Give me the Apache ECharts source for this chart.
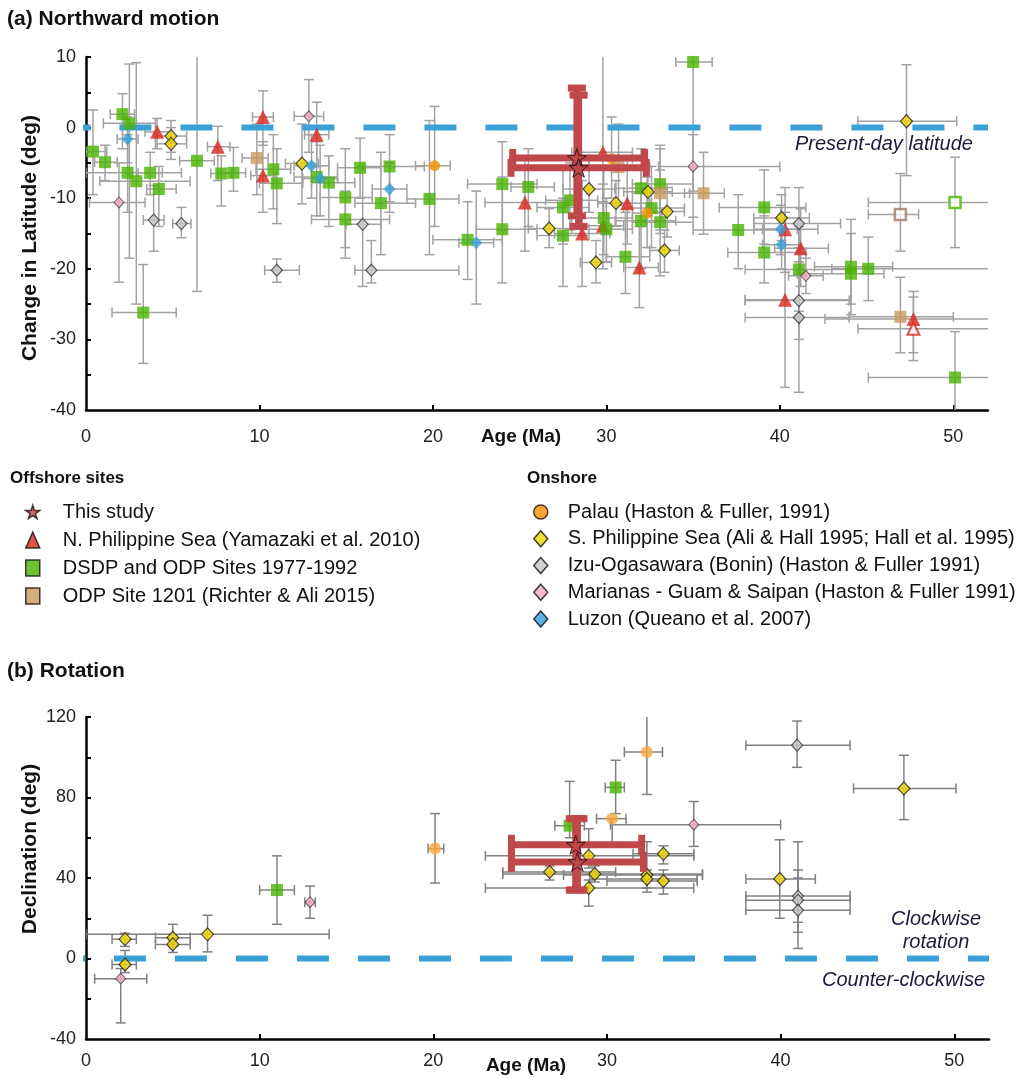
<!DOCTYPE html>
<html>
<head>
<meta charset="utf-8">
<script src="https://cdn.jsdelivr.net/npm/echarts@6/dist/echarts.min.js"></script>
<style>html,body{margin:0;padding:0;background:#fff}#c{width:1018px;height:1079px}</style>
</head>
<body>
<div id="c"></div>
<script>
// ---- data: [age, value, ageLow, ageHigh, valueLow, valueHigh] ----
const xTickLabels = [0, 10, 20, 30, 40, 50];
const yTickLabelsA = [-40, -30, -20, -10, 0, 10];
const yTickLabelsB = [-40, 0, 40, 80, 120];

// (a) Northward motion
const thisStudyA = [[28.3, -4.3, 24.6, 32.2, -12.5, 5.6], [28.4, -5.7, 24.5, 32.3, -14.0, 4.6]];
const nPhilA = [
  [4.1, -0.6, 3.4, 4.9, -3.0, 1.3], [7.6, -2.7, 7.0, 8.3, -7.5, 0.2], [10.2, 1.5, 9.6, 10.8, -2.5, 5.2],
  [10.2, -6.8, 9.5, 10.9, -12.0, -2.0], [13.3, -1.0, 12.6, 14.0, -5.5, 3.6], [25.3, -10.6, 23.0, 27.5, -17.5, -4.5],
  [28.6, -15.0, 27.0, 30.2, -22.5, -7.5], [29.8, -3.5, 28.0, 31.5, -10.5, 10.8], [29.8, -13.9, 28.5, 31.0, -20.0, -8.0],
  [31.2, -10.7, 30.0, 32.5, -16.5, -4.5], [31.9, -19.8, 31.0, 33.0, -25.5, -14.0], [40.3, -14.4, 38.5, 42.2, -20.5, -8.5],
  [41.2, -17.1, 39.7, 42.8, -22.5, -11.5], [40.3, -24.4, 38.0, 44.1, -36.8, -12.0], [47.7, -27.1, 42.6, 53.0, -31.9, -23.2]
];
const nPhilOpenA = [[47.7, -28.5, 44.5, 53.0, -33.0, -24.0]];
const dsdpA = [
  [0.4, -3.4, 0.0, 1.2, -9.5, 2.5], [1.1, -4.9, 0.5, 1.8, -7.5, -2.5], [2.1, 1.9, 1.4, 2.8, -3.0, 4.8],
  [2.5, 0.6, 1.0, 4.0, -18.5, 9.0], [2.4, -6.4, 0.0, 5.5, -12.0, -1.0], [2.9, -7.6, 0.8, 6.0, -25.0, 9.2],
  [3.3, -26.2, 1.5, 5.2, -33.4, -19.4], [3.7, -6.4, 3.0, 4.4, -9.5, -3.5], [4.2, -8.7, 3.5, 5.2, -14.0, -5.5],
  [6.4, -4.7, 5.4, 7.4, -23.2, 11.0], [7.8, -6.5, 7.2, 8.4, -11.1, -4.0], [8.5, -6.4, 7.8, 9.2, -9.0, -2.8],
  [10.8, -5.9, 9.8, 11.8, -11.5, -1.0], [11.0, -7.9, 10.0, 12.5, -13.6, -3.0], [13.3, -7.0, 12.0, 14.5, -12.5, -2.0],
  [14.0, -7.8, 13.0, 15.5, -14.0, -4.0], [14.95, -9.9, 13.5, 16.5, -18.5, -3.0], [14.95, -13.0, 13.0, 17.5, -17.0, -9.0],
  [15.8, -5.7, 14.5, 17.0, -10.0, -1.5], [17.0, -10.7, 15.5, 19.0, -18.0, -3.5], [17.5, -5.5, 16.0, 19.5, -10.5, -1.0],
  [19.8, -10.1, 18.5, 21.5, -18.0, 1.0], [22.0, -15.9, 20.0, 24.0, -21.5, -10.5], [24.0, -8.0, 22.0, 26.0, -14.5, -2.0],
  [24.0, -14.4, 22.5, 26.0, -22.0, -7.0], [25.5, -8.4, 24.5, 27.0, -14.0, -3.0], [27.5, -11.3, 26.0, 29.0, -16.5, -6.0],
  [27.5, -15.3, 26.0, 29.0, -22.5, -10.0], [27.9, -10.3, 26.5, 29.5, -14.5, -5.0], [29.85, -12.8, 28.0, 31.5, -18.0, -6.0],
  [30.0, -14.4, 29.0, 31.5, -19.0, -10.0], [31.1, -18.3, 30.0, 32.5, -23.5, -12.0], [32.0, -8.6, 30.5, 33.5, -14.0, -3.0],
  [32.0, -13.2, 30.5, 34.0, -20.0, -6.0], [32.6, -11.4, 31.0, 34.5, -17.0, -5.5], [33.1, -8.0, 31.5, 35.0, -14.5, -2.5],
  [33.1, -13.4, 31.5, 35.0, -21.0, -6.0], [35.0, 9.3, 34.0, 36.1, -12.7, 11.0], [37.6, -14.5, 35.0, 40.0, -20.0, -9.5],
  [39.1, -11.3, 36.5, 41.5, -16.5, -6.0], [39.1, -17.7, 37.0, 41.5, -22.0, -12.5], [41.1, -20.1, 38.0, 44.0, -26.0, -14.0],
  [44.1, -19.7, 42.0, 46.5, -25.0, -13.0], [44.1, -20.7, 41.0, 46.0, -26.5, -15.0], [45.1, -20.0, 43.0, 53.0, -24.5, -15.5],
  [50.1, -35.4, 45.1, 53.0, -41.0, -28.9]
];
const dsdpOpenA = [[50.1, -10.6, 45.1, 53.0, -17.0, -4.2]];
const odpA = [
  [9.85, -4.3, 9.0, 10.5, -9.5, 0.5], [30.7, -5.6, 29.0, 32.5, -11.0, 0.5], [33.1, -9.3, 31.5, 34.8, -15.0, -3.0],
  [35.6, -9.3, 34.5, 36.8, -15.1, -3.5], [46.95, -26.8, 44.0, 50.0, -31.9, -21.2]
];
const odpOpenA = [[46.95, -12.3, 45.1, 48.0, -17.5, -6.5]];
const palauA = [[20.1, -5.4, 19.0, 21.0, -14.0, 3.0], [30.3, -4.4, 29.0, 31.5, -10.0, 1.5], [32.35, -12.1, 31.5, 33.2, -17.0, -7.0]];
const sPhilA = [
  [4.9, -1.2, 4.0, 5.8, -3.5, 1.0], [4.9, -2.3, 4.0, 5.8, -4.5, 0.0], [12.45, -5.1, 11.5, 13.4, -10.8, 0.5],
  [26.7, -14.3, 25.5, 28.0, -17.0, -11.5], [29.0, -8.7, 27.5, 30.5, -12.0, -5.5], [29.4, -19.1, 28.5, 30.3, -22.0, -16.0],
  [30.55, -10.7, 29.5, 31.5, -14.0, -7.5], [32.4, -9.1, 31.0, 33.8, -12.5, -5.5], [33.5, -11.9, 32.5, 34.5, -15.5, -8.5],
  [33.35, -17.4, 32.5, 34.2, -20.5, -14.5], [40.1, -12.8, 38.5, 41.7, -16.0, -9.5], [47.3, 0.9, 44.5, 50.2, -6.8, 8.9]
];
const izuA = [
  [3.9, -13.1, 3.3, 4.5, -17.5, -8.2], [5.5, -13.6, 5.0, 6.05, -15.6, -11.3], [11.0, -20.2, 10.3, 12.3, -21.9, -18.6],
  [15.95, -13.7, 15.0, 17.0, -22.5, -5.5], [16.45, -20.2, 15.5, 21.5, -22.0, -16.0], [41.1, -13.6, 38.5, 43.5, -19.0, -8.5],
  [41.1, -24.5, 38.0, 44.0, -30.0, -19.0], [41.1, -26.9, 38.0, 44.0, -37.5, -17.0]
];
const marA = [[1.9, -10.6, 0.2, 3.4, -21.9, -5.0], [12.85, 1.6, 12.0, 13.7, -3.5, 6.8], [35.0, -5.5, 33.0, 40.0, -9.0, -1.0], [41.5, -21.0, 40.5, 42.5, -23.5, -18.5]];
const luzA = [
  [2.4, -1.6, 1.8, 3.0, -5.0, 1.5], [13.0, -5.4, 12.0, 14.0, -10.0, -1.0], [13.5, -7.2, 12.5, 14.5, -12.5, -2.5],
  [17.5, -8.7, 16.5, 18.5, -12.0, -5.0], [22.5, -16.3, 21.5, 23.5, -25.0, -9.0], [40.05, -14.4, 39.0, 41.0, -18.0, -11.0],
  [40.1, -16.6, 39.0, 41.2, -20.0, -13.0]
];

// (b) Rotation
const thisStudyB = [[28.2, 56.5, 24.5, 32.0, 34.0, 69.5], [28.3, 48.0, 24.5, 32.1, 34.0, 69.5]];
const dsdpB = [[11.0, 34.0, 10.0, 12.0, 17.0, 51.0], [30.5, 85.0, 29.9, 31.0, 72.0, 98.5], [27.85, 66.0, 27.0, 28.7, 60.0, 88.0]];
const palauB = [[20.1, 54.6, 19.7, 20.6, 37.5, 72.0], [32.3, 102.6, 31.0, 33.2, 81.5, 122.0], [30.3, 69.5, 29.4, 31.1, 56.0, 69.5]];
const sPhilB = [
  [2.25, 9.6, 1.5, 2.9, 6.0, 12.5], [2.25, -3.0, 1.5, 2.9, -7.0, 4.0], [5.0, 10.3, 4.0, 6.0, 6.0, 17.0],
  [5.0, 7.0, 4.0, 6.0, 3.0, 10.0], [7.0, 12.0, 0.0, 14.0, 3.3, 21.5], [26.7, 43.0, 24.0, 30.5, 39.0, 46.0],
  [28.95, 51.0, 23.0, 35.0, 45.0, 64.5], [29.3, 42.0, 24.0, 35.5, 38.0, 46.0], [28.95, 35.0, 23.0, 35.0, 26.0, 39.0],
  [32.3, 41.5, 27.5, 35.5, 33.0, 58.0], [32.3, 39.5, 29.0, 35.2, 35.0, 44.0], [33.25, 52.0, 31.5, 35.0, 47.0, 56.0],
  [33.25, 38.5, 30.0, 35.2, 32.0, 44.0], [39.95, 39.5, 38.0, 42.0, 20.0, 59.0], [47.1, 84.5, 44.2, 50.1, 69.0, 101.0]
];
const izuB = [[40.95, 106.0, 38.0, 44.0, 95.0, 118.0], [41.0, 31.0, 38.0, 44.0, 13.0, 58.0], [41.0, 29.0, 38.0, 44.0, 18.0, 44.0], [41.0, 24.0, 38.0, 44.0, 5.0, 40.0]];
const marB = [[2.0, -10.0, 0.5, 3.5, -32.0, -5.0], [12.9, 28.0, 12.6, 13.2, 20.0, 36.0], [35.0, 66.5, 30.2, 40.0, 55.7, 78.0]];

const refLine = [[-0.35, 0], [52, 0]];

// ---- names ----
const N_STUDY = 'This study';
const N_NPS = 'N. Philippine Sea (Yamazaki et al. 2010)';
const N_DSDP = 'DSDP and ODP Sites 1977-1992';
const N_ODP = 'ODP Site 1201 (Richter & Ali 2015)';
const N_PAL = 'Palau (Haston & Fuller, 1991)';
const N_SPS = 'S. Philippine Sea (Ali & Hall 1995; Hall et al. 1995)';
const N_IZU = 'Izu-Ogasawara (Bonin) (Haston & Fuller 1991)';
const N_MAR = 'Marianas - Guam & Saipan (Haston & Fuller 1991)';
const N_LUZ = 'Luzon (Queano et al. 2007)';

const FONT = 'Liberation Sans, Arial, Helvetica, sans-serif';
const STAR = 'path://M50,0 L61,35 L98,35 L68,57 L79,91 L50,70 L21,91 L32,57 L2,35 L39,35 Z';

function errSeries(name, data, gi, color, width, cap, z) {
  return {
    name: name, type: 'custom', xAxisIndex: gi, yAxisIndex: gi, z: z, clip: true, silent: true,
    data: data, encode: { x: [0, 2, 3], y: [1, 4, 5] },
    renderItem: function (params, api) {
      const x = api.value(0), y = api.value(1);
      const c = api.coord([x, y]);
      const xl = api.coord([api.value(2), y])[0], xh = api.coord([api.value(3), y])[0];
      const yl = api.coord([x, api.value(4)])[1], yh = api.coord([x, api.value(5)])[1];
      const st = { stroke: color, lineWidth: width, lineCap: 'butt' };
      const L = (x1, y1, x2, y2) => ({ type: 'line', shape: { x1, y1, x2, y2 }, style: st });
      return {
        type: 'group', children: [
          L(xl, c[1], xh, c[1]), L(xl, c[1] - cap, xl, c[1] + cap), L(xh, c[1] - cap, xh, c[1] + cap),
          L(c[0], yl, c[0], yh), L(c[0] - cap, yl, c[0] + cap, yl), L(c[0] - cap, yh, c[0] + cap, yh)
        ]
      };
    }
  };
}
function markSeries(name, data, gi, symbol, size, itemStyle, z) {
  return {
    name: name, type: 'scatter', xAxisIndex: gi, yAxisIndex: gi, z: z, symbol: symbol, symbolSize: size,
    itemStyle: itemStyle, data: data.map(d => [d[0], d[1]]), emphasis: { disabled: true }
  };
}

const GA = '#a2a2a2', GB = '#808080';
const S = {
  nps: { color: '#d9261c' },
  npsOpen: { color: '#ffffff', borderColor: '#d9261c', borderWidth: 2 },
  dsdp: { color: '#48b400' },
  dsdpOpen: { color: '#ffffff', borderColor: '#48b400', borderWidth: 2.5 },
  odp: { color: '#c9995e' },
  odpOpen: { color: '#ffffff', borderColor: '#9a7a66', borderWidth: 2.5 },
  palA: { color: '#f39200' },
  palB: { color: '#f7a83e' },
  sps: { color: '#f3d600', borderColor: '#222', borderWidth: 1.2 },
  izu: { color: '#c8c8c8', borderColor: '#333', borderWidth: 1.2 },
  mar: { color: '#f4a8c4', borderColor: '#444', borderWidth: 1 },
  luz: { color: '#36a0d8' },
  star: { color: '#c0474a', borderColor: '#111', borderWidth: 1 }
};
const RED = '#c0474a';

const series = [
  { type: 'line', name: 'ref-a', xAxisIndex: 0, yAxisIndex: 0, data: refLine, symbol: 'none', clip: false, z: 3, silent: true,
    lineStyle: { color: '#3aa0d6', width: 6, type: [32, 29], dashOffset: 21.5, cap: 'butt' } },
  { type: 'line', name: 'ref-b', xAxisIndex: 1, yAxisIndex: 1, data: refLine, symbol: 'none', clip: false, z: 3, silent: true,
    lineStyle: { color: '#3aa0d6', width: 6, type: [32, 29], dashOffset: 27, cap: 'butt' } },
  errSeries('e1', nPhilA, 0, GA, 1.5, 5, 2), errSeries('e2', nPhilOpenA, 0, GA, 1.5, 5, 2),
  errSeries('e3', dsdpA, 0, GA, 1.5, 5, 2), errSeries('e4', dsdpOpenA, 0, GA, 1.5, 5, 2),
  errSeries('e5', odpA, 0, GA, 1.5, 5, 2), errSeries('e6', odpOpenA, 0, GA, 1.5, 5, 2),
  errSeries('e7', palauA, 0, GA, 1.5, 5, 2), errSeries('e8', sPhilA, 0, GA, 1.5, 5, 2),
  errSeries('e9', izuA, 0, GA, 1.5, 5, 2), errSeries('e10', marA, 0, GA, 1.5, 5, 2),
  errSeries('e11', luzA, 0, GA, 1.5, 5, 2),
  errSeries('e12', thisStudyA, 0, RED, 7, 9, 6),
  errSeries('f1', dsdpB, 1, GB, 1.5, 5, 2), errSeries('f2', palauB, 1, GB, 1.5, 5, 2),
  errSeries('f3', sPhilB, 1, GB, 1.5, 5, 2), errSeries('f4', izuB, 1, GB, 1.5, 5, 2),
  errSeries('f5', marB, 1, GB, 1.5, 5, 2), errSeries('f6', thisStudyB, 1, RED, 7, 10, 6),
  markSeries(N_STUDY, thisStudyA, 0, STAR, 19, S.star, 7),
  markSeries(N_NPS, nPhilA, 0, 'triangle', 14, S.nps, 4),
  markSeries('nps-open', nPhilOpenA, 0, 'triangle', 12, S.npsOpen, 4),
  markSeries(N_DSDP, dsdpA, 0, 'rect', 12, S.dsdp, 4),
  markSeries('dsdp-open', dsdpOpenA, 0, 'rect', 11, S.dsdpOpen, 4),
  markSeries(N_ODP, odpA, 0, 'rect', 12, S.odp, 4),
  markSeries('odp-open', odpOpenA, 0, 'rect', 11, S.odpOpen, 4),
  markSeries(N_PAL, palauA, 0, 'circle', 11, S.palA, 4),
  markSeries(N_SPS, sPhilA, 0, 'diamond', [12, 13], S.sps, 5),
  markSeries(N_IZU, izuA, 0, 'diamond', [11, 12], S.izu, 5),
  markSeries(N_MAR, marA, 0, 'diamond', [10, 11], S.mar, 5),
  markSeries(N_LUZ, luzA, 0, 'diamond', [12, 13], S.luz, 5),
  markSeries(N_STUDY, thisStudyB, 1, STAR, 19, S.star, 7),
  markSeries(N_DSDP, dsdpB, 1, 'rect', 12, S.dsdp, 4),
  markSeries(N_PAL, palauB, 1, 'circle', 12, S.palB, 4),
  markSeries(N_SPS, sPhilB, 1, 'diamond', [12, 13], S.sps, 5),
  markSeries(N_IZU, izuB, 1, 'diamond', [11, 12], S.izu, 5),
  markSeries(N_MAR, marB, 1, 'diamond', [10, 11], S.mar, 5)
];

function xAxis(gi, labelMargin) {
  return {
    type: 'value', gridIndex: gi, min: 0, max: 52, interval: 10,
    axisLine: { show: true, onZero: false, lineStyle: { color: '#000', width: 2.5 } },
    axisTick: { show: true, inside: true, length: 5, lineStyle: { color: '#000', width: 2 }, customValues: [10, 20, 30, 40, 50] },
    axisLabel: { customValues: xTickLabels, margin: labelMargin, color: '#222', fontSize: 18, fontFamily: FONT },
    splitLine: { show: false }
  };
}
function yAxis(gi, min, max, interval, ticks, labels) {
  return {
    type: 'value', gridIndex: gi, min: min, max: max, interval: interval,
    axisLine: { show: true, onZero: false, lineStyle: { color: '#000', width: 2.5 } },
    axisTick: { show: true, inside: true, length: 5, lineStyle: { color: '#000', width: 2 }, customValues: ticks },
    axisLabel: { customValues: labels, margin: 10, color: '#222', fontSize: 18, fontFamily: FONT },
    splitLine: { show: false }
  };
}
const ticksA = [], ticksB = [];
for (let v = -35; v <= 10; v += 5) ticksA.push(v);
for (let v = -20; v <= 120; v += 20) ticksB.push(v);

const legendText = { fontSize: 20, fontFamily: FONT, color: '#111' };
const option = {
  animation: false,
  backgroundColor: '#fff',
  grid: [
    { left: 86, top: 57, width: 902, height: 353 },
    { left: 86, top: 717, width: 903, height: 322 }
  ],
  xAxis: [xAxis(0, 18), xAxis(1, 13)],
  yAxis: [yAxis(0, -40, 10, 10, ticksA, yTickLabelsA), yAxis(1, -40, 120, 40, ticksB, yTickLabelsB)],
  legend: [
    { orient: 'vertical', left: 20, top: 497, itemWidth: 14, itemHeight: 16, itemGap: 8, selectedMode: false,
      itemStyle: { borderColor: '#111', borderWidth: 1.5 },
      textStyle: Object.assign({ padding: [0, 0, 0, 18] }, legendText),
      data: [N_STUDY, N_NPS, N_DSDP, N_ODP] },
    { orient: 'vertical', left: 528, top: 497, itemWidth: 14, itemHeight: 16, itemGap: 6.75, selectedMode: false,
      itemStyle: { borderColor: '#111', borderWidth: 1.5 },
      textStyle: Object.assign({ padding: [0, 0, 0, 15] }, legendText),
      data: [N_PAL, N_SPS, N_IZU, N_MAR, N_LUZ] }
  ],
  graphic: [
    { type: 'text', left: 7, top: 9, style: { text: '(a) Northward motion', font: 'bold 21px ' + FONT, fill: '#111' } },
    { type: 'text', left: 7, top: 661, style: { text: '(b) Rotation', font: 'bold 21px ' + FONT, fill: '#111' } },
    { type: 'text', x: 30, y: 238, rotation: Math.PI / 2, style: { text: 'Change in Latitude (deg)', font: 'bold 21px ' + FONT, fill: '#111', align: 'center', verticalAlign: 'middle' } },
    { type: 'text', x: 30, y: 849, rotation: Math.PI / 2, style: { text: 'Declination (deg)', font: 'bold 21px ' + FONT, fill: '#111', align: 'center', verticalAlign: 'middle' } },
    { type: 'text', x: 521, y: 437, style: { text: 'Age (Ma)', font: 'bold 19px ' + FONT, fill: '#111', align: 'center', verticalAlign: 'middle' } },
    { type: 'text', x: 526, y: 1066, style: { text: 'Age (Ma)', font: 'bold 19px ' + FONT, fill: '#111', align: 'center', verticalAlign: 'middle' } },
    { type: 'text', x: 795, y: 144, style: { text: 'Present-day latitude', font: 'italic 20px ' + FONT, fill: '#1a1a3a', align: 'left', verticalAlign: 'middle' } },
    { type: 'text', x: 936, y: 919, style: { text: 'Clockwise', font: 'italic 20px ' + FONT, fill: '#1a1a3a', align: 'center', verticalAlign: 'middle' } },
    { type: 'text', x: 936, y: 942, style: { text: 'rotation', font: 'italic 20px ' + FONT, fill: '#1a1a3a', align: 'center', verticalAlign: 'middle' } },
    { type: 'text', x: 985, y: 980, style: { text: 'Counter-clockwise', font: 'italic 20px ' + FONT, fill: '#1a1a3a', align: 'right', verticalAlign: 'middle' } },
    { type: 'text', left: 10, top: 470, style: { text: 'Offshore sites', font: 'bold 17px ' + FONT, fill: '#111' } },
    { type: 'text', left: 527, top: 470, style: { text: 'Onshore', font: 'bold 17px ' + FONT, fill: '#111' } }
  ],
  series: series
};
const chart = echarts.init(document.getElementById('c'), null, { renderer: 'canvas' });
chart.setOption(option);
</script>
</body>
</html>
